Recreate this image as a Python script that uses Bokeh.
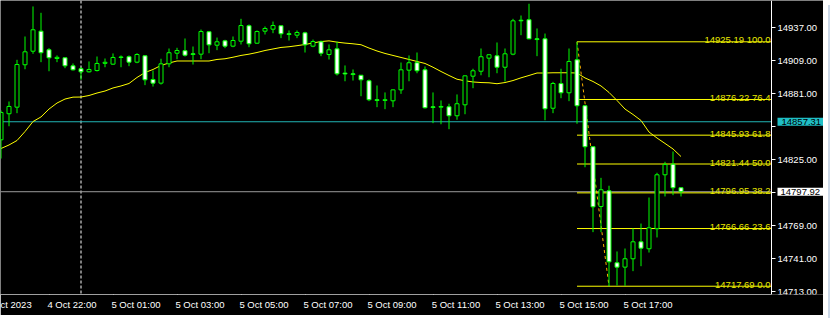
from bokeh.plotting import figure
from bokeh.models import (Range1d, FixedTicker, NumeralTickFormatter, Span, Label,
                          LinearAxis, ColumnDataSource, Div)
from bokeh.layouts import row
from bokeh.core.properties import value
from bokeh.embed import file_html
from bokeh.resources import INLINE

# ---------------- data (15-minute bars, index = bar number) ----------------
bars = list(range(86))
opens = [14842.0, 14864.1, 14869.7, 14905.7, 14917.2, 14934.2, 14918.4, 14911.0, 14911.6, 14904.8,
         14902.3, 14899.7, 14900.8, 14906.9, 14906.2, 14912.3, 14912.5, 14907.9, 14913.3, 14893.2,
         14890.1, 14906.5, 14915.5, 14917.6, 14915.0, 14914.7, 14933.7, 14922.3, 14926.0, 14921.5,
         14925.7, 14938.8, 14924.0, 14934.2, 14935.9, 14938.8, 14932.0, 14930.8, 14932.8, 14921.5,
         14925.2, 14914.4, 14919.2, 14898.6, 14898.0, 14896.8, 14892.1, 14876.0, 14875.4, 14875.1,
         14884.4, 14901.1, 14907.4, 14901.4, 14870.0, 14869.7, 14870.0, 14862.4, 14871.7, 14896.0,
         14900.2, 14911.3, 14913.3, 14903.6, 14914.7, 14943.5, 14943.9, 14927.7, 14927.7, 14868.8,
         14889.7, 14881.9, 14909.9, 14870.9, 14836.1, 14785.4, 14798.7, 14737.6, 14733.9, 14741.0,
         14755.4, 14749.5, 14766.5, 14812.3, 14821.3, 14801.3]
highs = [14866.9, 14874.5, 14909.9, 14929.7, 14955.2, 14949.8, 14919.8, 14913.6, 14911.9, 14906.8,
         14903.6, 14908.5, 14912.7, 14911.0, 14915.3, 14913.6, 14913.6, 14915.5, 14913.6, 14900.8,
         14910.8, 14919.5, 14920.1, 14928.0, 14921.2, 14935.6, 14934.4, 14928.8, 14926.9, 14929.7,
         14944.7, 14939.9, 14934.8, 14938.2, 14942.4, 14939.0, 14934.8, 14934.8, 14933.7, 14927.1,
         14926.3, 14922.9, 14925.4, 14905.1, 14901.7, 14897.0, 14893.2, 14888.1, 14882.2, 14884.7,
         14907.6, 14913.6, 14916.1, 14904.2, 14882.2, 14875.4, 14872.6, 14880.5, 14896.6, 14902.3,
         14919.5, 14914.4, 14924.6, 14919.5, 14944.7, 14947.5, 14957.5, 14936.5, 14932.2, 14891.2,
         14902.3, 14919.5, 14925.19, 14871.1, 14836.3, 14809.7, 14803.0, 14747.2, 14749.7, 14766.7,
         14770.9, 14793.0, 14814.0, 14823.3, 14832.1, 14801.5]
lows = [14826.1, 14853.5, 14864.6, 14901.9, 14915.0, 14907.9, 14900.2, 14907.9, 14902.8, 14900.8,
        14892.9, 14899.1, 14900.0, 14903.6, 14905.5, 14903.6, 14904.5, 14907.0, 14888.4, 14887.2,
        14888.9, 14903.6, 14910.4, 14912.7, 14905.9, 14910.4, 14915.5, 14918.1, 14919.8, 14920.6,
        14922.9, 14920.6, 14923.5, 14931.4, 14932.5, 14928.3, 14926.3, 14928.3, 14916.1, 14920.6,
        14913.0, 14910.2, 14896.6, 14891.7, 14892.3, 14879.0, 14874.8, 14869.7, 14868.0, 14869.7,
        14881.0, 14891.7, 14898.5, 14868.6, 14856.1, 14855.2, 14851.0, 14859.0, 14863.7, 14885.8,
        14896.8, 14895.1, 14898.5, 14891.5, 14913.8, 14930.8, 14927.4, 14913.0, 14858.6, 14864.6,
        14877.3, 14874.8, 14855.6, 14818.7, 14763.6, 14763.6, 14717.69, 14718.3, 14718.0, 14730.5,
        14734.7, 14746.3, 14759.1, 14793.9, 14795.0, 14793.9]
closes = [14865.2, 14870.3, 14905.9, 14916.7, 14935.4, 14915.9, 14911.6, 14912.0, 14904.8, 14901.4,
          14899.7, 14901.7, 14906.8, 14907.8, 14911.9, 14911.9, 14907.9, 14914.4, 14892.9, 14890.1,
          14906.5, 14915.9, 14917.8, 14913.8, 14914.4, 14933.9, 14922.6, 14925.2, 14921.5, 14926.3,
          14939.0, 14923.5, 14933.9, 14936.5, 14939.0, 14932.0, 14931.4, 14933.1, 14922.6, 14925.4,
          14915.5, 14918.4, 14898.0, 14897.9, 14897.4, 14892.9, 14876.0, 14875.4, 14876.0, 14884.4,
          14901.4, 14907.4, 14900.6, 14869.2, 14869.4, 14870.3, 14862.4, 14872.6, 14896.3, 14900.6,
          14912.5, 14914.2, 14903.6, 14915.0, 14943.0, 14943.0, 14927.7, 14927.1, 14868.3, 14889.8,
          14881.9, 14908.5, 14870.9, 14836.1, 14785.1, 14799.6, 14738.4, 14733.9, 14741.0, 14755.4,
          14750.0, 14767.3, 14812.3, 14821.0, 14801.3, 14797.92]
ma = [14834.6, 14837.6, 14841.4, 14849.0, 14857.5, 14861.4, 14868.1, 14873.2, 14876.6, 14878.2,
      14878.3, 14879.6, 14881.7, 14883.4, 14886.0, 14887.7, 14889.8, 14894.9, 14899.1, 14901.7,
      14905.1, 14907.2, 14908.9, 14908.9, 14908.9, 14908.9, 14908.9, 14910.2, 14910.8, 14912.1,
      14913.6, 14914.7, 14916.1, 14917.8, 14919.1, 14920.4, 14921.0, 14921.9, 14922.9, 14924.2,
      14925.4, 14926.0, 14924.9, 14924.1, 14923.5, 14922.7, 14919.9, 14917.4, 14915.3, 14913.6,
      14911.9, 14910.2, 14908.5, 14906.8, 14903.6, 14900.0, 14896.6, 14893.4, 14892.1, 14891.1,
      14890.6, 14890.4, 14889.6, 14890.6, 14892.3, 14894.6, 14896.6, 14898.7, 14898.7, 14898.9,
      14898.9, 14898.9, 14898.7, 14894.5, 14891.5, 14887.7, 14882.2, 14875.4, 14868.1, 14863.5,
      14858.4, 14848.6, 14843.5, 14838.9, 14834.2, 14827.8]

fib_prices = [14925.19, 14876.22, 14845.93, 14821.44, 14796.95, 14766.66, 14717.69]
fib_ratios = [100.0, 76.4, 61.8, 50.0, 38.2, 23.6, 0.0]
fib_start_bar, fib_end_bar = 72, 76

x_ticks = [-2, 6, 14, 22, 30, 38, 46, 54, 62, 70, 78]
# the first label is cut by the left edge in the original: only "ct 2023" shows
x_labels = ["ct 2023", "4 Oct 22:00", "5 Oct 01:00", "5 Oct 03:00", "5 Oct 05:00",
            "5 Oct 07:00", "5 Oct 09:00", "5 Oct 11:00", "5 Oct 13:00", "5 Oct 15:00",
            "5 Oct 17:00"]
y_ticks = [14713, 14741, 14769, 14797, 14825, 14853, 14881, 14909, 14937]
y_hidden = [14797, 14853]   # covered by the price boxes

hline_price = 14857.31
bid_price = 14797.92
separator_bar = 10

# ---------------- layout / style ----------------
FONT = "Liberation Sans"
FS = "9.5px"
LIME = "#00ff00"
W, H = 823, 315
FH = 294                 # chart area height
AXPX = 771               # pixel column of the price axis
PX = 8.0                 # pixels per bar
X0 = -0.5 / PX
X1 = X0 + W / PX
AX = X0 + AXPX / PX      # price-axis position in bar units
Y0, Y1 = 14710.67, 14960.25
LABEL_SHIFT = 23.0 / PX  # time labels start at their tick (MetaTrader style)

p = figure(width=W, height=H, output_backend="svg", toolbar_location=None,
           x_range=Range1d(X0, X1), y_range=Range1d(Y0, Y1),
           y_axis_location="right", background_fill_color="black",
           border_fill_color="black", min_border_left=0, min_border_top=0,
           min_border_right=0, min_border_bottom=H - FH)
p.outline_line_color = None
p.grid.visible = False

# price axis, drawn at a fixed spot inside the canvas
yax = p.yaxis[0]
yax.fixed_location = AX
yax.ticker = FixedTicker(ticks=y_ticks)
yax.formatter = NumeralTickFormatter(format="0.00")
yax.major_label_overrides = {t: "" for t in y_hidden}
yax.major_label_standoff = 2
yax.major_label_text_font_size = FS

# time axis: tick marks only, fixed at the bottom edge of the chart
xax = p.xaxis[0]
xax.ticker = FixedTicker(ticks=x_ticks)
xax.bounds = (X0, AX)
xax.fixed_location = Y0
xax.major_label_overrides = {t: "" for t in x_ticks}

for ax in (xax, yax):
    ax.axis_line_color = "white"
    ax.major_tick_line_color = "white"
    ax.major_tick_in = 0
    ax.major_tick_out = 4
    ax.minor_tick_line_color = None
    ax.major_label_text_color = "white"
    ax.major_label_text_font = FONT

# time axis: labels (left-aligned at the ticks)
p.extra_x_ranges = {"lab": Range1d(X0 - LABEL_SHIFT, X1 - LABEL_SHIFT)}
lab_axis = LinearAxis(x_range_name="lab", ticker=FixedTicker(ticks=x_ticks),
                      major_label_overrides={t: s for t, s in zip(x_ticks, x_labels)},
                      axis_line_color=None, major_tick_line_color=None,
                      minor_tick_line_color=None, major_tick_in=0, major_tick_out=0,
                      major_label_standoff=4, major_label_text_color="white",
                      major_label_text_font=FONT, major_label_text_font_size=FS)
p.add_layout(lab_axis, "below")

# horizontal / vertical lines
p.segment(x0=[X0], y0=[hline_price], x1=[AX], y1=[hline_price], line_color="#20b4b4", line_width=1)
p.segment(x0=[X0], y0=[bid_price], x1=[AX], y1=[bid_price], line_color="#9c9c9c", line_width=1)
p.add_layout(Span(location=separator_bar, dimension="height", line_color="white",
                  line_width=1, line_dash="3 2", level="underlay"))

# fibonacci levels
fib_src = ColumnDataSource(dict(
    y=fib_prices,
    x0=[fib_start_bar] * len(fib_prices),
    x1=[AX] * len(fib_prices),
    label=[f"{pr:.2f} {r:.1f}" for pr, r in zip(fib_prices, fib_ratios)]))
p.segment(x0="x0", y0="y", x1="x1", y1="y", source=fib_src, line_color="#ffff00", line_width=1)
p.text(x="x1", y="y", text="label", source=fib_src, text_align="right",
       text_baseline="alphabetic", x_offset=-1, y_offset=-2, text_color="#e8e800",
       text_font=value(FONT), text_font_size=value(FS))
p.line(x=[fib_start_bar, fib_end_bar], y=[fib_prices[0], fib_prices[-1]],
       line_color="#ffb000", line_width=1, line_dash="3 3")

# moving average
p.line(x=bars, y=ma, line_color="#ffff00", line_width=1)

# candles
tops = [max(o, c) for o, c in zip(opens, closes)]
bottoms = [min(o, c) for o, c in zip(opens, closes)]
fills = ["black" if c >= o else "white" for o, c in zip(opens, closes)]
src = ColumnDataSource(dict(x=bars, h=highs, l=lows, top=tops, bottom=bottoms, fill=fills))
p.segment(x0="x", y0="l", x1="x", y1="h", source=src, line_color=LIME, line_width=1)
p.vbar(x="x", width=0.5, top="top", bottom="bottom", source=src,
       fill_color="fill", line_color=LIME, line_width=1)

# price boxes on the axis
p.add_layout(Label(x=AX + 6 / PX, y=hline_price, text=f"{hline_price:.2f}",
                   text_align="left", text_baseline="middle", text_color="black",
                   text_font=FONT, text_font_size=FS, background_fill_color="#1fbfc6",
                   padding=dict(left=4, right=4, top=1, bottom=1), level="overlay"))
p.add_layout(Label(x=AX + 6 / PX, y=bid_price, text=f"{bid_price:.2f}",
                   text_align="left", text_baseline="middle", text_color="black",
                   text_font=FONT, text_font_size=FS, background_fill_color="white",
                   padding=dict(left=3, right=4, top=1, bottom=1), level="overlay"))

strip = Div(width=7, height=H, styles={"background-color": "#cdd9e8"})
layout = row(p, strip)

open("out.html", "w").write(file_html(layout, INLINE))
